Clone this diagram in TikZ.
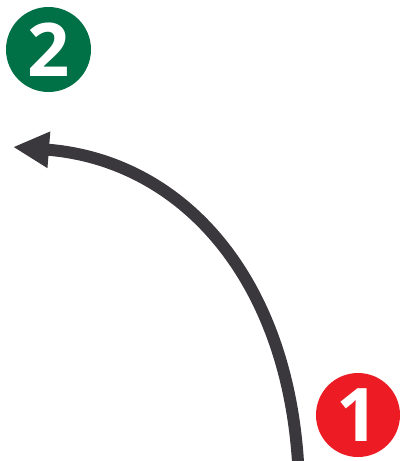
\documentclass[tikz,border=0pt]{standalone}
\usepackage{fontspec}
\setmainfont{Open Sans}
\usetikzlibrary{arrows.meta}
\definecolor{badgegreen}{RGB}{0,112,70}
\definecolor{badgered}{RGB}{237,28,36}
\definecolor{arrowgrey}{RGB}{58,56,61}
\tikzset{
  badge/.style={circle, inner sep=0pt, minimum size=85pt, text=white,
    font=\bfseries\fontsize{74}{74}\selectfont},
  curvearrow/.style={draw=arrowgrey, line width=12pt,
    -{Triangle[length=36pt,width=34pt]}}
}
\begin{document}
\begin{tikzpicture}[x=1pt,y=-1pt]
\useasboundingbox (0,0) rectangle (405,461);
\node[badge, fill=badgegreen] (n2) at (48.5,49.5) {2};
\node[badge, fill=badgered, minimum size=84pt] (n1) at (358,415) {1};
\coordinate (start) at (298,462);
\coordinate (tip) at (13,147);
\draw[curvearrow] (start) .. controls (286,275) and (180,160) .. (tip);
\end{tikzpicture}
\end{document}
